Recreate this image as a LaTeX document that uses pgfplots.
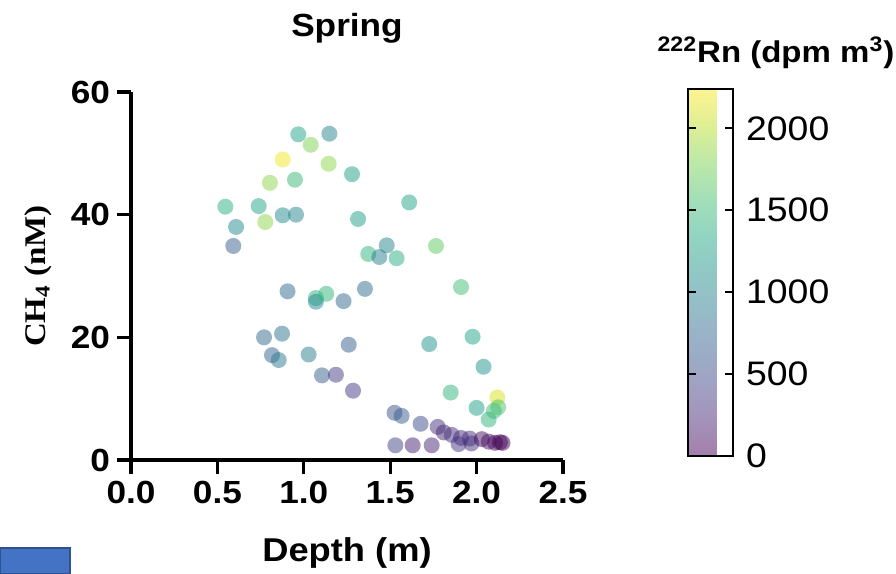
\documentclass[border=0pt]{standalone}
\usepackage{fontspec}
\setmainfont{Liberation Sans}[FakeStretch=1.1]
\newfontfamily\serifb{Liberation Serif}[FakeStretch=1.1]
\usepackage{pgfplots}
\pgfplotsset{compat=1.18}

\pgfplotsset{
  colormap={vfade}{rgb255=(162,128,170) rgb255=(164,146,186) rgb255=(160,162,195) rgb255=(154,175,198) rgb255=(149,188,199) rgb255=(144,200,198) rgb255=(145,212,194) rgb255=(162,223,184) rgb255=(189,232,168) rgb255=(222,239,147) rgb255=(254,243,146)},
}

\begin{document}
\begin{tikzpicture}
\useasboundingbox (-65.5pt,-57pt) rectangle (382.5pt,230pt);
\begin{axis}[
  name=main,
  scale only axis,
  width=216pt, height=184pt,
  xmin=0, xmax=2.5, ymin=0, ymax=60,
  axis x line*=bottom, axis y line*=left,
  axis line style={line width=1.6pt,-},
  xtick={0,0.5,1,1.5,2,2.5},
  ytick={0,20,40,60},
  minor tick num=0,
  tick style={line width=1.6pt,black},
  major tick length=7pt,
  tick align=outside,
  /pgf/number format/assume math mode=true,
  xticklabel style={font=\fontsize{16}{18}\selectfont\bfseries,/pgf/number format/.cd,fixed,precision=1,zerofill},
  yticklabel style={font=\fontsize{16}{18}\selectfont\bfseries},
  title={Spring},
  title style={font=\fontsize{16}{18}\selectfont\bfseries, at={(0.5,1)}, anchor=center, yshift=26pt},
  xlabel={Depth (m)},
  xlabel style={font=\fontsize{16.5}{18}\selectfont\bfseries, at={(0.5,0)}, anchor=center, yshift=-46.5pt},
  ylabel={CH\textsubscript{4} (nM)},
  ylabel style={font=\fontsize{15}{18}\selectfont\serifb\bfseries, at={(0,0.5)}, anchor=center, yshift=46.5pt},
  colormap/viridis,
  point meta min=0, point meta max=2240,
  colorbar,
  colorbar style={
    colormap name=vfade,
    at={(parent axis.north east)}, anchor=north west,
    xshift=54pt, yshift=1.5pt,
    scale only axis,
    width=22.5pt, height=183.5pt,
    axis line style={line width=0.9pt},
    ytick={0,500,1000,1500,2000},
    yticklabel pos=right,
    ytick align=inside,
    major tick length=4pt,
    tick style={line width=0.9pt,black},
    yticklabel style={font=\fontsize{17}{19}\selectfont, anchor=west, xshift=3pt},
    /pgf/number format/assume math mode=true,
    /pgf/number format/1000 sep={},
    extra description/.code={
      \foreach \f in {0.2232,0.4464,0.6696,0.8929}{
        \draw[line width=0.9pt,black] (0,\f) -- ++(4pt,0);
      }
    },
  },
]
\addplot[scatter, only marks, mark=*, mark size=4pt,
  point meta=\thisrow{c},
  scatter/use mapped color={draw opacity=0, fill=mapped color},
  mark options={fill opacity=0.5, draw opacity=0}]
  table {
x y c
0.968 53.1 1300
1.148 53.2 1000
1.04 51.4 1800
0.878 49.0 2200
1.144 48.3 1850
1.279 46.6 1250
0.804 45.2 1850
0.949 45.7 1500
0.546 41.3 1400
0.739 41.4 1300
0.608 38.0 1050
0.777 38.8 1850
0.878 39.9 1050
0.955 40.0 1000
1.314 39.3 1250
0.592 34.9 650
1.61 42.0 1300
1.373 33.6 1450
1.48 35.0 1000
1.437 33.1 950
1.537 32.9 1400
1.765 34.9 1700
1.91 28.2 1550
0.906 27.5 750
1.07 26.4 1400
1.07 25.8 1050
1.13 27.1 1450
1.23 25.9 750
1.354 27.9 800
0.77 20.0 750
0.874 20.6 850
0.816 17.1 700
0.855 16.3 900
1.028 17.2 950
1.26 18.8 650
1.105 13.8 650
1.186 13.9 400
1.285 11.3 350
1.726 18.9 1150
1.977 20.1 1300
2.04 15.2 1150
1.85 11.0 1450
2.12 10.2 2100
2.0 8.5 1250
2.125 8.6 1600
2.10 8.0 1550
2.07 6.6 1450
1.525 7.7 550
1.566 7.2 650
1.676 5.9 500
1.775 5.4 300
1.81 4.5 250
1.856 4.1 300
1.91 3.6 250
1.96 3.5 300
1.896 2.6 350
1.97 2.7 300
2.03 3.4 100
2.07 3.0 100
2.107 2.8 50
2.135 2.9 30
2.15 2.8 0
1.53 2.4 450
1.63 2.4 200
1.74 2.4 250
};
\end{axis}
\node[font=\fontsize{15}{17}\selectfont\bfseries, anchor=center] at (322.5pt,203.5pt) {\textsuperscript{222}Rn (dpm m\textsuperscript{3})};
\fill[fill={rgb,255:red,68;green,114;blue,196}, draw={rgb,255:red,47;green,82;blue,143}, line width=0.6pt] (-65.5pt,-57pt) rectangle (-30.5pt,-44pt);
\end{tikzpicture}
\end{document}
